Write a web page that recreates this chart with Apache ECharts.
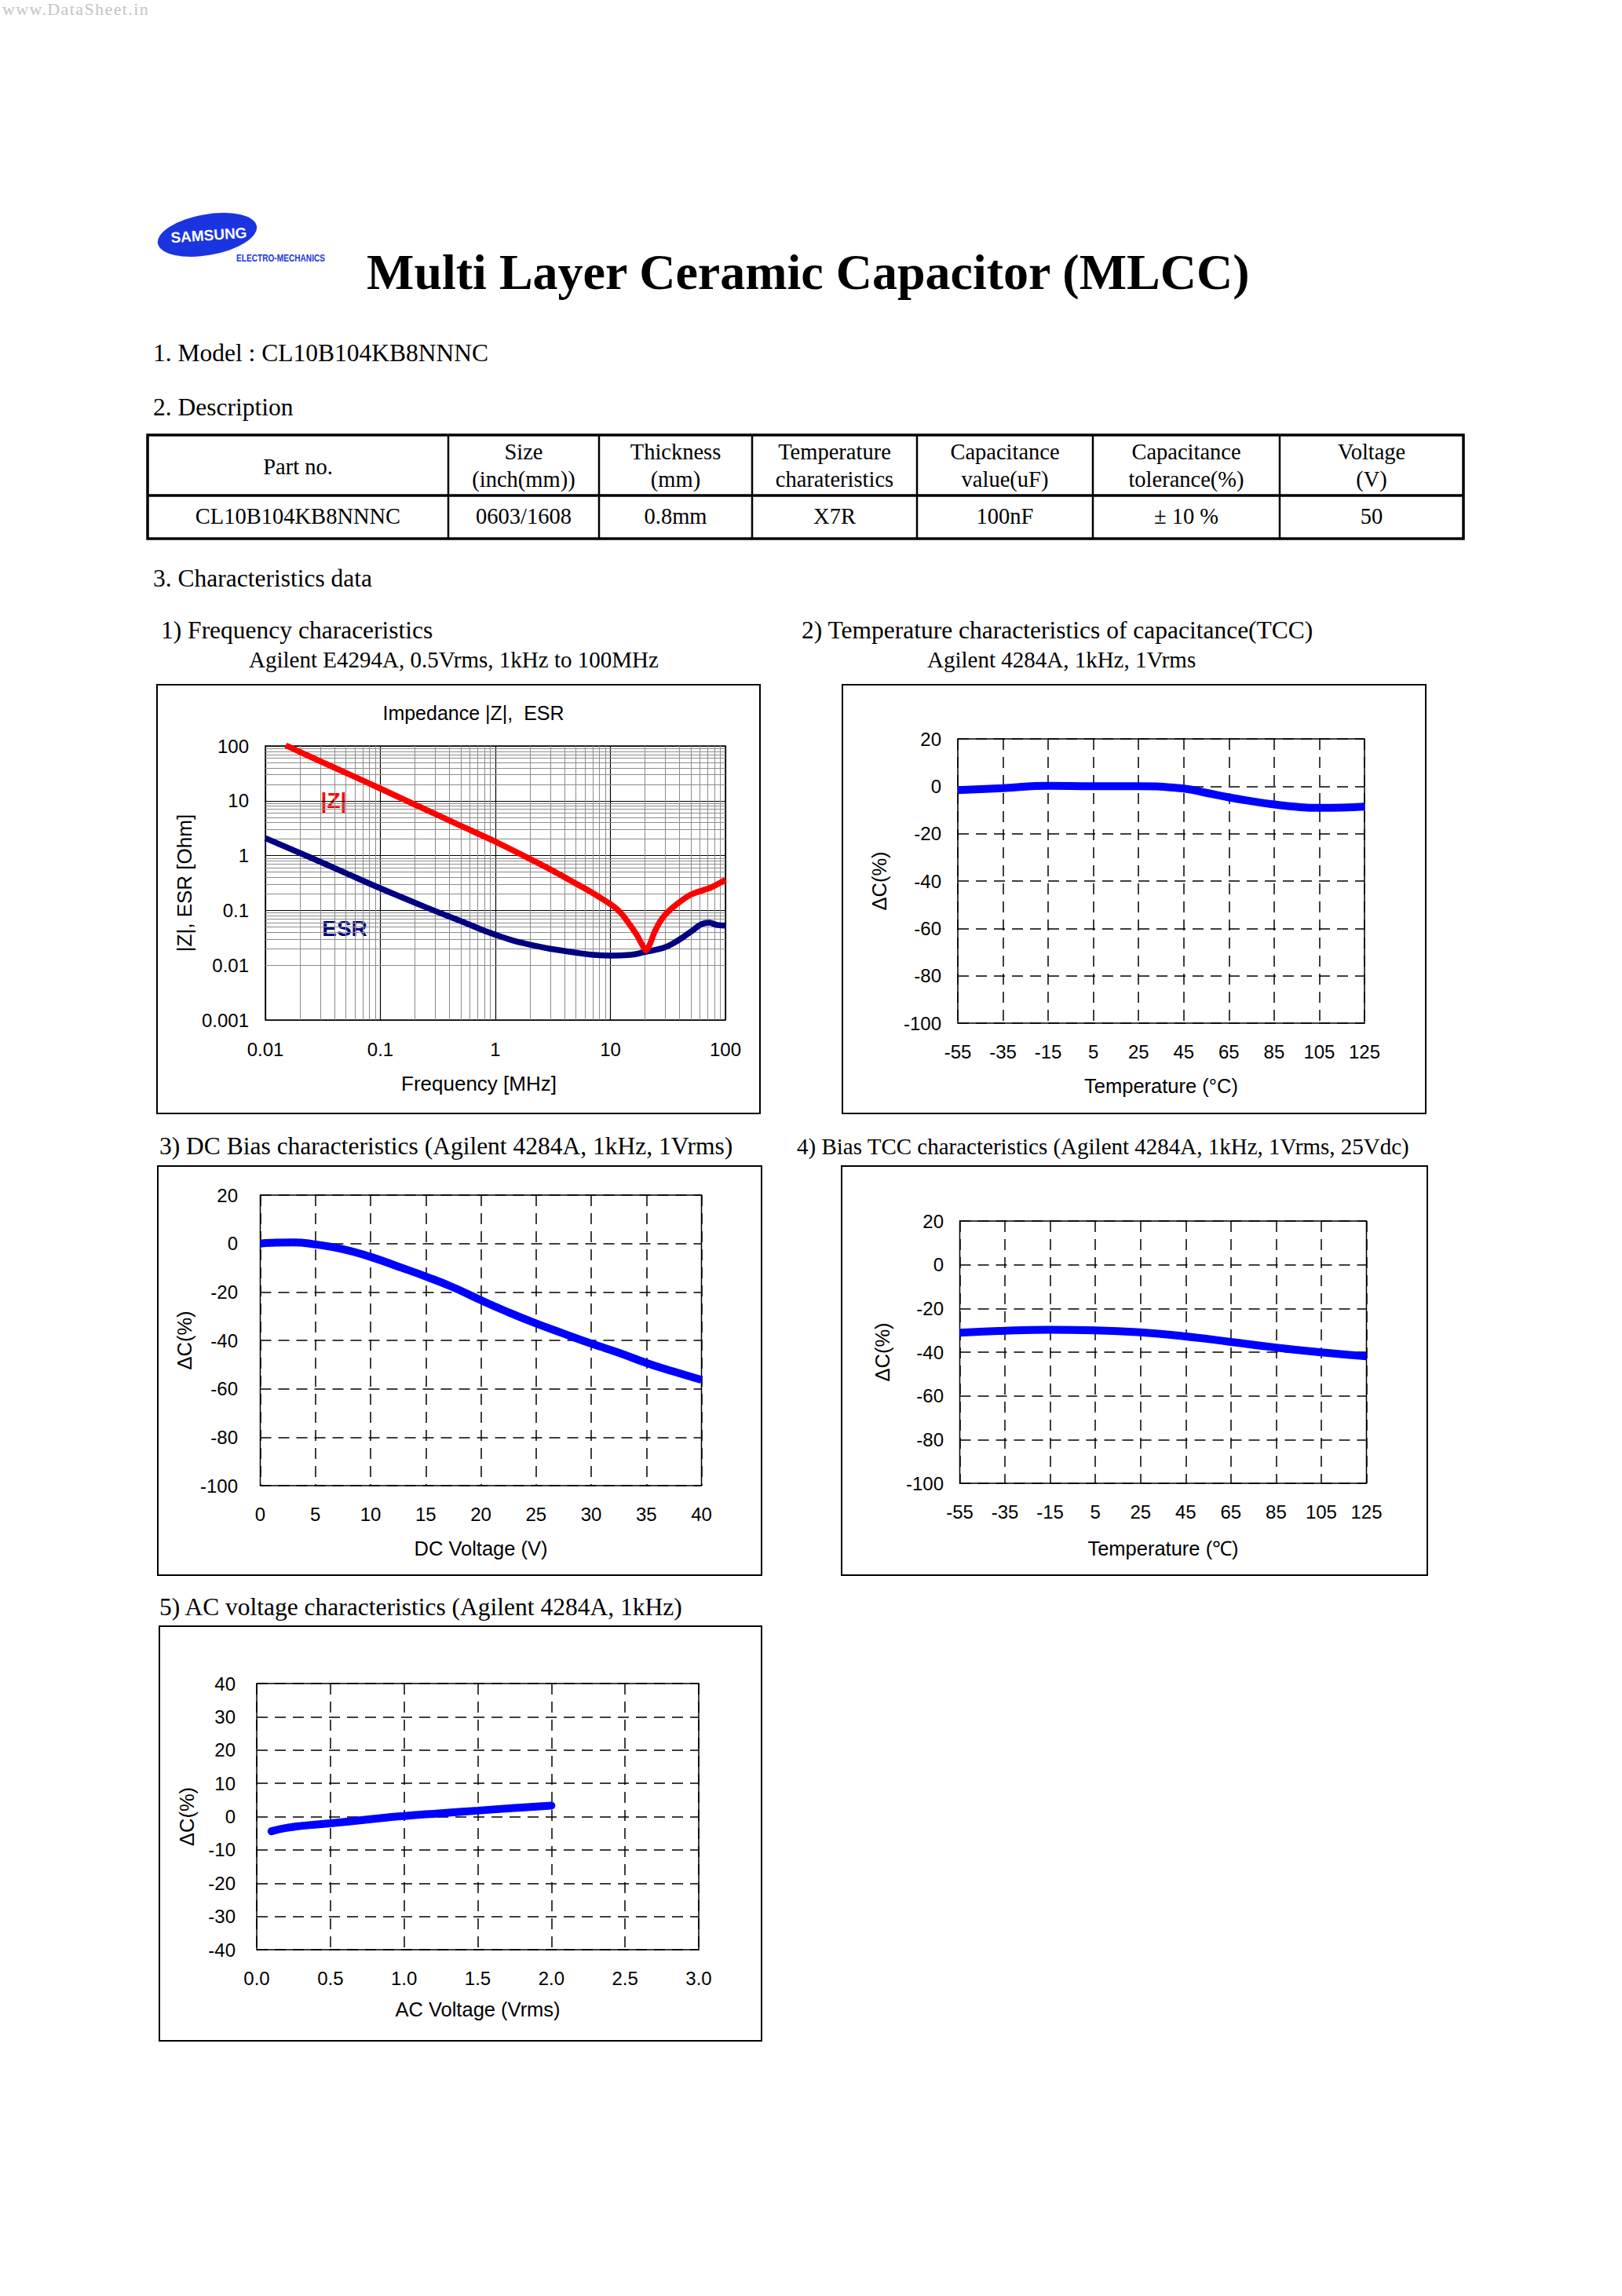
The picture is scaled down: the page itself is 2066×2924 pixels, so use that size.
<!DOCTYPE html>
<html><head><meta charset="utf-8">
<script src="https://cdn.jsdelivr.net/npm/echarts@6/dist/echarts.min.js"></script>
<style>
html,body{margin:0;padding:0;background:#fff;}
#page{position:relative;width:2066px;height:2924px;overflow:hidden;background:#fff;}
#chart{position:absolute;left:0;top:0;width:2066px;height:2924px;}
#txt{position:absolute;left:0;top:0;pointer-events:none;}
#txt text{white-space:pre;}
</style></head>
<body><div id="page"><div id="chart"></div>
<svg id="txt" width="2066" height="2924" xmlns="http://www.w3.org/2000/svg"></svg></div>
<script>
// ---------------- data ----------------
// 1) Frequency characteristics (MHz, Ohm)
const freqZ = [0.015, 0.02, 0.031, 0.05, 0.1, 0.2, 0.5, 1, 2, 3, 5, 6.7, 10, 12, 13.9, 16.9, 19, 20.4, 22, 24.3, 28, 33.6, 50, 75, 100];
const impZ  = [103, 78, 51, 32.5, 16.7, 8.5, 3.5, 1.8, 0.87, 0.56, 0.31, 0.22, 0.13, 0.095, 0.065, 0.036, 0.023, 0.0186, 0.024, 0.041, 0.07, 0.106, 0.194, 0.262, 0.36];
const freqESR = [0.01, 0.0244, 0.05, 0.1, 0.271, 0.5, 1, 2, 4.5, 10, 15, 20, 26.4, 33.6, 50, 62, 72, 85, 100];
const esr     = [2.08, 0.93, 0.48, 0.253, 0.106, 0.064, 0.036, 0.0237, 0.0175, 0.015, 0.0155, 0.0175, 0.0197, 0.0237, 0.0407, 0.056, 0.06, 0.054, 0.053];
// 2) TCC
const tccTemp  = [-55, -35, -15, 5, 25, 45, 55, 65, 75, 85, 95, 105, 115, 125];
const tccDelta = [-1.6, -0.8, 0.2, 0, 0, -1.0, -2.8, -4.7, -6.3, -7.7, -8.7, -9.1, -9.0, -8.6];
// 3) DC bias
const dcVolt  = [0, 1, 3, 5, 7.5, 10, 12.5, 15, 17.5, 20, 22.5, 25, 27.5, 30, 32.5, 35, 37.5, 40];
const dcDelta = [0, 0.3, 0.5, -0.4, -2.3, -5.5, -9.5, -13.6, -18.1, -23.4, -28.4, -33.0, -37.2, -41.3, -45.1, -49.3, -52.9, -56.3];
// 4) Bias TCC
const biasTemp  = [-55, -35, -15, 5, 25, 45, 65, 85, 105, 125];
const biasDelta = [-31.1, -30.2, -29.8, -30.0, -30.9, -32.8, -35.3, -37.9, -40.1, -41.9];
// 5) AC voltage
const acVolt  = [0.1, 0.2, 0.3, 0.5, 0.75, 1.0, 1.25, 1.5, 1.75, 2.0];
const acDelta = [-4.4, -3.4, -2.8, -2.0, -0.9, 0.2, 1.0, 1.8, 2.6, 3.3];
// tick labels
const tempStart = -55;             // first temperature tick
const tempTicks = [-55, -35, -15, 5, 25, 45, 65, 85, 105, 125];
const freqTicks = ['0.01', '0.1', '1', '10', '100'];
const impTicks  = ['0.001', '0.01', '0.1', '1', '10', '100'];
// table
const tableHeader = [['Part no.'], ['Size', '(inch(mm))'], ['Thickness', '(mm)'], ['Temperature', 'charateristics'], ['Capacitance', 'value(uF)'], ['Capacitance', 'tolerance(%)'], ['Voltage', '(V)']];
const tableRow = ['CL10B104KB8NNNC', '0603/1608', '0.8mm', 'X7R', '100nF', '\u00b1 10 %', '50'];

// ---------------- page text (SVG) ----------------
const NS = 'http://www.w3.org/2000/svg';
const svg = document.getElementById('txt');
const SERIF = 'Liberation Serif, Times New Roman, serif';
const SANS = 'Liberation Sans, Arial, Helvetica, sans-serif';
function el(tag, attrs) {
  const e = document.createElementNS(NS, tag);
  for (const k in attrs) e.setAttribute(k, attrs[k]);
  svg.appendChild(e); return e;
}
function T(x, y, s, size, o) {
  o = o || {};
  const a = {x: x, y: y, 'font-family': o.family || SERIF, 'font-size': size, fill: o.fill || '#000'};
  if (o.weight) a['font-weight'] = o.weight;
  if (o.anchor) a['text-anchor'] = o.anchor;
  if (o.ls) a['letter-spacing'] = o.ls;
  if (o.len) { a.textLength = o.len; a.lengthAdjust = 'spacingAndGlyphs'; }
  if (o.transform) a.transform = o.transform;
  const t = el('text', a); t.textContent = s; return t;
}
T(3, 19, 'www.DataSheet.in', 22, {fill: '#c4c4c4', ls: 1.4});
// logo
el('ellipse', {cx: 264, cy: 299, rx: 64, ry: 26, fill: '#1a35e0', transform: 'rotate(-10 264 299)'});
T(266, 306, 'SAMSUNG', 19, {family: SANS, weight: 'bold', fill: '#fff', anchor: 'middle', transform: 'rotate(-4 266 300)'});
T(301, 333, 'ELECTRO-MECHANICS', 13, {family: SANS, weight: 'bold', fill: '#1a35e0', len: 113});
T(467, 368, 'Multi Layer Ceramic Capacitor (MLCC)', 64, {weight: 'bold'});
T(195, 460, '1. Model : CL10B104KB8NNNC', 31.5);
T(195, 529, '2. Description', 31.5);
// table
const colX = [188, 571, 763, 958, 1168, 1392, 1630, 1864];
const tTop = 554, tSep = 631, tBot = 686;
el('rect', {x: colX[0], y: tTop, width: colX[7] - colX[0], height: tBot - tTop, fill: 'none', stroke: '#000', 'stroke-width': 3.5});
el('line', {x1: colX[0], x2: colX[7], y1: tSep, y2: tSep, stroke: '#000', 'stroke-width': 3.5});
for (let i = 1; i < 7; i++) el('line', {x1: colX[i], x2: colX[i], y1: tTop, y2: tBot, stroke: '#000', 'stroke-width': 2.5});
for (let i = 0; i < 7; i++) {
  const cx = (colX[i] + colX[i + 1]) / 2;
  const h = tableHeader[i];
  if (h.length === 1) T(cx, 603.5, h[0], 28.5, {anchor: 'middle'});
  else { T(cx, 585, h[0], 28.5, {anchor: 'middle'}); T(cx, 620, h[1], 28.5, {anchor: 'middle'}); }
  T(cx, 667, tableRow[i], 28.5, {anchor: 'middle'});
}
T(195, 747, '3. Characteristics data', 31.5);
T(205, 813, '1) Frequency characeristics', 31.5);
T(317, 850, 'Agilent E4294A, 0.5Vrms, 1kHz to 100MHz', 29);
T(1021, 813, '2) Temperature characteristics of capacitance(TCC)', 31.5);
T(1181, 850, 'Agilent 4284A, 1kHz, 1Vrms', 29);
T(203, 1470, '3) DC Bias characteristics (Agilent 4284A, 1kHz, 1Vrms)', 31.5);
T(1015, 1470, '4) Bias TCC characteristics (Agilent 4284A, 1kHz, 1Vrms, 25Vdc)', 29);
T(203, 2057, '5) AC voltage characteristics (Agilent 4284A, 1kHz)', 31.5);
// chart frames
[[200, 872, 768, 546], [1073, 872, 743, 546], [201, 1485, 769, 521], [1072, 1485, 746, 521], [203, 2071, 767, 528]].forEach(function (b) {
  el('rect', {x: b[0], y: b[1], width: b[2], height: b[3], fill: 'none', stroke: '#000', 'stroke-width': 2});
});

// ---------------- charts (ECharts) ----------------
const chart = echarts.init(document.getElementById('chart'), null, {renderer: 'svg', width: 2066, height: 2924});
const gridBase = {show: true, borderColor: '#000', borderWidth: 1.5, backgroundColor: 'rgba(0,0,0,0)', containLabel: false, outerBoundsMode: 'none'};
const grids = [
  {left: 338, top: 950, width: 586, height: 349},
  {left: 1220, top: 941, width: 518, height: 362},
  {left: 331.5, top: 1522, width: 562, height: 370},
  {left: 1222.5, top: 1555, width: 518, height: 334},
  {left: 327, top: 2144, width: 563, height: 339}
].map(function (g) { return Object.assign({}, gridBase, g); });

const dashed = {show: true, lineStyle: {color: '#000', width: 1.5, type: [14, 9]}};
function lab(margin, fmt) {
  return {show: true, color: '#000', fontFamily: SANS, fontSize: 24, margin: margin, formatter: fmt, showMinLabel: true, showMaxLabel: true, interval: 0, hideOverlap: false};
}
function nameStyle(extra) { return Object.assign({color: '#000', fontFamily: SANS, fontSize: 25.5}, extra || {}); }
function vAxis(gi, min, max, interval, label, name, gap, split, nameExtra) {
  return {type: 'value', gridIndex: gi, min: min, max: max, interval: interval,
    axisLine: {show: false}, axisTick: {show: false}, axisLabel: label,
    splitLine: split || dashed, name: name, nameLocation: 'middle', nameGap: gap, nameTextStyle: nameStyle(nameExtra)};
}
function logFmt(list) {
  return function (v) {
    const s = String(+Number(v).toPrecision(3));
    return list.indexOf(s) >= 0 ? s : '';
  };
}
const majorLog = {show: true, lineStyle: {color: '#000', width: 1.2, type: 'solid'}};

const xAxes = [
  {type: 'log', logBase: 10, gridIndex: 0, min: 0.01, max: 100, splitNumber: 4,
    axisLine: {show: false}, axisTick: {show: false}, axisLabel: lab(25, logFmt(freqTicks)), splitLine: majorLog,
    name: 'Frequency [MHz]', nameLocation: 'middle', nameGap: 68, nameTextStyle: nameStyle({fontSize: 26, padding: [0, 42, 0, 0]})},
  vAxis(1, 0, 180, 20, lab(24.6, function (v) { return String(v + tempStart); }), 'Temperature (\u00b0C)', 67),
  vAxis(2, 0, 40, 5, lab(24, null), 'DC Voltage (V)', 67),
  vAxis(3, 0, 180, 20, lab(24.7, function (v) { return String(v + tempStart); }), 'Temperature (\u2103)', 70),
  vAxis(4, 0, 3, 0.5, lab(24, function (v) { return v.toFixed(1); }), 'AC Voltage (Vrms)', 63)
];
const yAxes = [
  {type: 'log', logBase: 10, gridIndex: 0, min: 0.001, max: 100, splitNumber: 5,
    axisLine: {show: false}, axisTick: {show: false}, axisLabel: lab(21, logFmt(impTicks)), splitLine: majorLog,
    name: '|Z|, ESR [Ohm]', nameLocation: 'middle', nameGap: 90, nameTextStyle: nameStyle({fontSize: 26})},
  vAxis(1, -100, 20, 20, lab(21, null), '\u0394C(%)', 87),
  vAxis(2, -100, 20, 20, lab(28.5, null), '\u0394C(%)', 84),
  vAxis(3, -100, 20, 20, lab(20.5, null), '\u0394C(%)', 86),
  vAxis(4, -40, 40, 10, lab(27, null), '\u0394C(%)', 76)
];

// minor log grid positions (2..9 x each decade)
const minorX = [], minorY = [];
for (let d = -2; d < 2; d++) for (let k = 2; k <= 9; k++) minorX.push(+(k * Math.pow(10, d)).toPrecision(2));
for (let d = -3; d < 2; d++) for (let k = 2; k <= 9; k++) minorY.push(+(k * Math.pow(10, d)).toPrecision(2));

function pairs(xs, ys, off) { return xs.map(function (x, i) { return [x + (off || 0), ys[i]]; }); }
function blue(gi, data, extra) {
  return Object.assign({type: 'line', xAxisIndex: gi, yAxisIndex: gi, data: data, smooth: 0.5,
    showSymbol: false, symbol: 'none', lineStyle: {color: '#0000ff', width: 10}, z: 5, clip: true, animation: false}, extra || {});
}

const series = [
  {type: 'line', xAxisIndex: 0, yAxisIndex: 0, data: [], z: 1, silent: true, animation: false,
    markLine: {silent: true, symbol: ['none', 'none'], label: {show: false}, animation: false,
      lineStyle: {color: '#8c8c8c', width: 1, type: 'solid'},
      emphasis: {disabled: true},
      data: minorX.map(function (v) { return {xAxis: v}; }).concat(minorY.map(function (v) { return {yAxis: v}; }))}},
  {type: 'line', name: '|Z|', xAxisIndex: 0, yAxisIndex: 0, data: pairs(freqZ, impZ), smooth: 0.25,
    showSymbol: false, symbol: 'none', lineStyle: {color: '#ff0000', width: 7.5}, z: 6, clip: true, animation: false},
  {type: 'line', name: 'ESR', xAxisIndex: 0, yAxisIndex: 0, data: pairs(freqESR, esr), smooth: 0.5,
    showSymbol: false, symbol: 'none', lineStyle: {color: '#000080', width: 7.5}, z: 5, clip: true, animation: false},
  blue(1, pairs(tccTemp, tccDelta, -tempStart)),
  blue(2, pairs(dcVolt, dcDelta)),
  blue(3, pairs(biasTemp, biasDelta, -tempStart)),
  blue(4, pairs(acVolt, acDelta), {lineStyle: {color: '#0000ff', width: 10, cap: 'round'}})
];

chart.setOption({
  animation: false,
  backgroundColor: 'rgba(0,0,0,0)',
  grid: grids,
  xAxis: xAxes,
  yAxis: yAxes,
  series: series,
  graphic: [
    {type: 'text', x: 603, y: 908, silent: true, style: {text: 'Impedance |Z|,\u00a0 ESR', fill: '#000', font: '25px ' + SANS, textAlign: 'center', textVerticalAlign: 'middle'}},
    {type: 'text', x: 425, y: 1019, silent: true, style: {text: '|Z|', fill: '#ff0000', font: 'bold 28px ' + SANS, textAlign: 'center', textVerticalAlign: 'middle'}},
    {type: 'text', x: 439, y: 1182, silent: true, style: {text: 'ESR', fill: '#000080', font: 'bold 28px ' + SANS, textAlign: 'center', textVerticalAlign: 'middle'}}
  ]
});
</script>
</body></html>
